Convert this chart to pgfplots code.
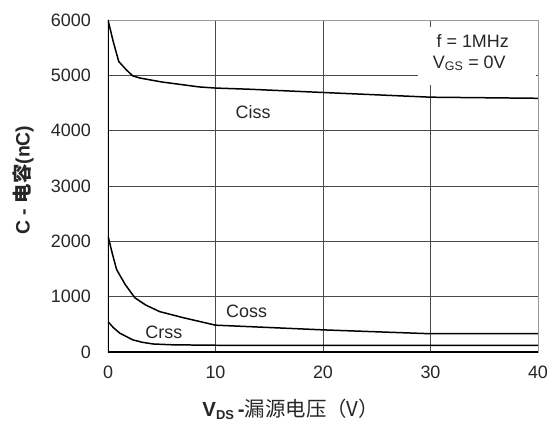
\documentclass[border=0pt]{standalone}
\usepackage{pgfplots}
\pgfplotsset{compat=1.18}
\usepackage{fontspec}
\setmainfont{Liberation Sans}
\newfontfamily\cjk{Noto Sans CJK SC}

\definecolor{gridgray}{HTML}{4A4A4A}
\definecolor{framegray}{HTML}{9A9A9A}

% Capacitance vs drain-source voltage (pF curves, V_DS in volts)
\pgfplotstableread{
x y
0    6000
0.5  5600
1    5250
1.7  5100
2.3  4990
3    4950
5    4880
8.5  4790
10   4770
13   4750
20   4690
30   4605
40   4585
}\ciss
\pgfplotstableread{
x y
0    2100
0.4  1780
0.8  1490
1.6  1220
2.5  980
3.5  850
4.8  730
7    620
10   485
20   400
30   330
40   330
}\coss
\pgfplotstableread{
x y
0    550
0.5  440
1.1  340
2.3  220
3.2  175
4.2  145
6    130
10   122
20   120
40   120
}\crss

\begin{document}
\begin{tikzpicture}
\begin{axis}[
  name=ax,
  at={(0,0)}, anchor=south west,
  scale only axis,
  width=430bp, height=332bp,
  xmin=0, xmax=40, ymin=0, ymax=6000,
  xtick={0,10,20,30,40},
  ytick={0,1000,2000,3000,4000,5000,6000},
  major tick length=0pt,
  grid=major,
  major grid style={draw=gridgray, line width=0.8pt},
  axis line style={draw=framegray, line width=1pt},
  /pgf/number format/assume math mode=true,
  /pgf/number format/1000 sep={},
  tick label style={font=\fontsize{18}{21}\selectfont, text=black!85},
  yticklabel style={anchor=east, inner sep=0pt, xshift=-17bp},
  xticklabel style={anchor=north, inner sep=0pt, yshift=-14bp},
  xlabel={\textbf{V\textsubscript{\fontsize{13}{15}\selectfont DS}\,-}{\cjk 漏源电压（V）}},
  xlabel style={font=\fontsize{20.5}{24}\selectfont, text=black!85,
    at={(axis description cs:0.425,-0.172)}, anchor=center, inner sep=0pt},
  ylabel={\textbf{C - {\cjk 电容}(nC)}},
  ylabel style={font=\fontsize{19.5}{22}\selectfont, text=black!85,
    at={(axis description cs:-0.197,0.518)}, anchor=center, rotate=0, inner sep=0pt},
]
  % condition box over the grid
  \fill[white] (axis cs:28.8,4830) rectangle (axis cs:39.85,5880);
  \node[anchor=west, inner sep=0pt, font=\fontsize{18}{21}\selectfont, text=black!85]
    at (axis cs:30.55,5616) {f = 1MHz};
  \node[anchor=west, inner sep=0pt, font=\fontsize{18}{21}\selectfont, text=black!85]
    at (axis cs:30.2,5217) {V\textsubscript{\fontsize{12.5}{14}\selectfont GS} = 0V};

  \addplot[black, line width=1.5pt, no marks] table {\ciss};
  \addplot[black, line width=1.5pt, no marks] table {\coss};
  \addplot[black, line width=1.5pt, no marks] table {\crss};

  \node[font=\fontsize{18}{21}\selectfont, text=black!85] at (axis cs:13.5,4330) {Ciss};
  \node[font=\fontsize{18}{21}\selectfont, text=black!85] at (axis cs:12.9,730) {Coss};
  \node[font=\fontsize{18}{21}\selectfont, text=black!85] at (axis cs:5.2,350) {Crss};

  \draw[black, line width=1.6pt] (rel axis cs:0,1) -- (rel axis cs:0,0) -- (rel axis cs:1,0);
\end{axis}
\pgfresetboundingbox
\path[use as bounding box] (-108bp,-76bp) rectangle (444bp,352bp);
\end{tikzpicture}
\end{document}
